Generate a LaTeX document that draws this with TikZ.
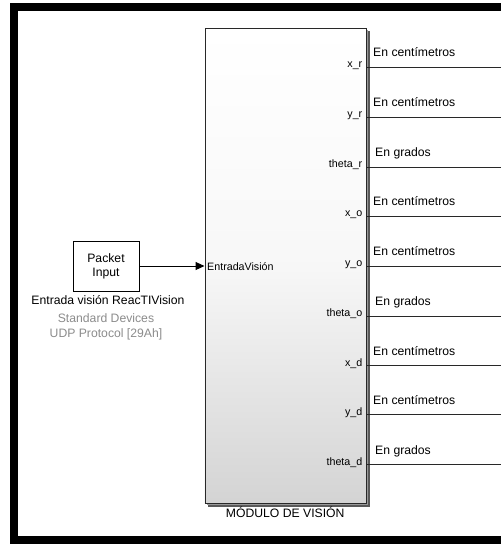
\documentclass[tikz,border=0pt]{standalone}
\usepackage{fontspec}
\setmainfont{Liberation Sans}
\usetikzlibrary{arrows.meta}
\definecolor{lbl}{RGB}{140,140,140}
\definecolor{edge}{RGB}{40,40,40}
\tikzset{
  big/.style={font=\fontsize{12.2}{14}\selectfont},
  small/.style={font=\fontsize{10.7}{12}\selectfont},
  portline/.style={draw=edge, line width=1pt},
  unitlbl/.style={big, anchor=base west, inner sep=0pt},
  portlbl/.style={small, anchor=base east, inner sep=0pt},
}
\begin{document}
\begin{tikzpicture}[x=1pt,y=-1pt]
\useasboundingbox (0,0) rectangle (501,544);
\fill[white] (0,0) rectangle (501,544);
% frame
\fill[black] (10,3) rectangle (501,11);
\fill[black] (10,3) rectangle (17.5,544);
\fill[black] (10,536) rectangle (501,544);
% main block shadow and body
\fill[black!65] (207.5,31) rectangle (369.5,507);
\fill[black!40] (206.5,30) rectangle (368,505);
\node[draw=edge, line width=0.8pt, minimum width=161.5pt, minimum height=475pt, inner sep=0pt,
      top color=white, bottom color=black!17, middle color=white!97!black,
      anchor=north west] (mod) at (204.5,28) {};
\node[big, anchor=base, inner sep=0pt] (modname) at (285.2,517) {MÓDULO DE VISIÓN};
% input block
\node[draw=black, line width=0.8pt, fill=white, minimum width=66pt, minimum height=50pt,
      inner sep=0pt, big, align=center] (pkt) at (106,266) {Packet\\Input};
\node[big, anchor=base, inner sep=0pt] (pktname) at (108,304) {Entrada visión ReacTIVision};
\node[big, anchor=base, inner sep=0pt, text=lbl] (pktdev) at (106,322) {Standard Devices};
\node[big, anchor=base, inner sep=0pt, text=lbl] (pktproto) at (106,337) {UDP Protocol [29Ah]};
\coordinate (inport) at (204.5,266);
\draw[line width=1pt, -{Triangle[length=9pt,width=8pt]}] (pkt.east) -- (inport);
\node[small, anchor=base west, inner sep=0pt] (inlbl) at (207,270) {EntradaVisión};
% outputs
\foreach \nm/\lab/\unit/\y/\ux in {
   xr/x\_r/En centímetros/67/373,
   yr/y\_r/En centímetros/117/373,
   tr/theta\_r/En grados/167/375,
   xo/x\_o/En centímetros/216/373,
   yo/y\_o/En centímetros/266/373,
   to/theta\_o/En grados/316/375,
   xd/x\_d/En centímetros/365.5/373,
   yd/y\_d/En centímetros/414.5/373,
   td/theta\_d/En grados/464.5/375} {
  \coordinate (p\nm) at (366,\y);
  \coordinate (e\nm) at (501,\y);
  \draw[portline] (p\nm) -- (e\nm);
  \node[portlbl] (l\nm) at (362.5,\y+0.5) {\lab};
  \node[unitlbl] (u\nm) at (\ux,\y-10.5) {\unit};
}
\end{tikzpicture}
\end{document}
